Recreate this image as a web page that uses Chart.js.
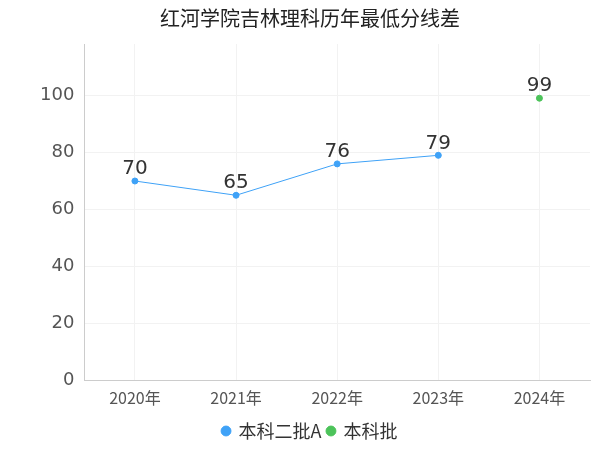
<!DOCTYPE html>
<html>
<head>
<meta charset="utf-8">
<script src="https://cdn.jsdelivr.net/npm/chart.js@4"></script>
<style>
  body { margin: 0; background: #fff; }
</style>
</head>
<body>
<canvas id="c" width="600" height="450"></canvas>
<script>
const years = ['2020年', '2021年', '2022年', '2023年', '2024年'];
const seriesA = [70, 65, 76, 79, null];
const seriesB = [null, null, null, null, 99];
const yTicks = [0, 20, 40, 60, 80, 100];

// value labels above the points
const labelPlugin = {
    id: 'labels',
    afterDatasetsDraw(chart) {
        const ctx = chart.ctx;
        ctx.save();
        ctx.font = '20px "DejaVu Sans", sans-serif';
        ctx.fillStyle = '#333';
        ctx.textAlign = 'center';
        ctx.textBaseline = 'bottom';
        chart.data.datasets.forEach((ds, i) => {
            chart.getDatasetMeta(i).data.forEach((pt, j) => {
                if (ds.data[j] == null) return;
                ctx.fillText(ds.data[j], pt.x, pt.y - 2);
            });
        });
        ctx.restore();
    }
};

new Chart(document.getElementById('c').getContext('2d'), {
    type: 'line',
    data: {
        labels: years,
        datasets: [{
            label: '本科二批A',
            data: seriesA,
            borderColor: '#3fa2f7',
            backgroundColor: '#3fa2f7',
            borderWidth: 1,
            pointRadius: 3,
            spanGaps: false
        }, {
            label: '本科批',
            data: seriesB,
            borderColor: '#4cc35a',
            backgroundColor: '#4cc35a',
            borderWidth: 1,
            pointRadius: 3
        }]
    },
    options: {
        responsive: false,
        animation: false,
        layout: { padding: { left: 30, right: 10, top: 0, bottom: 0 } },
        plugins: {
            title: {
                display: true,
                text: '红河学院吉林理科历年最低分线差',
                color: '#222',
                font: { size: 20, family: '"Noto Sans CJK SC", sans-serif', weight: 'normal' },
                padding: { top: 6, bottom: 14 }
            },
            legend: {
                position: 'bottom',
                labels: {
                    usePointStyle: true,
                    pointStyle: 'circle',
                    color: '#333',
                    font: { size: 18, family: '"Noto Sans CJK SC", sans-serif' },
                    boxWidth: 7,
                    boxHeight: 7,
                    padding: 6
                }
            },
            tooltip: { enabled: false }
        },
        scales: {
            x: {
                offset: true,
                grid: { color: '#f2f2f2', drawTicks: false },
                border: { color: '#ccc' },
                ticks: { color: '#555', maxRotation: 0, font: { size: 16, family: '"Noto Sans CJK SC", sans-serif' }, padding: 8 }
            },
            y: {
                min: 0,
                max: 118,
                afterBuildTicks(axis) { axis.ticks = yTicks.map(v => ({ value: v })); },
                grid: { color: '#f2f2f2', drawTicks: false },
                border: { color: '#ccc' },
                ticks: { color: '#555', font: { size: 18, family: '"DejaVu Sans", sans-serif' }, padding: 10 }
            }
        }
    },
    plugins: [labelPlugin]
});
</script>
</body>
</html>
